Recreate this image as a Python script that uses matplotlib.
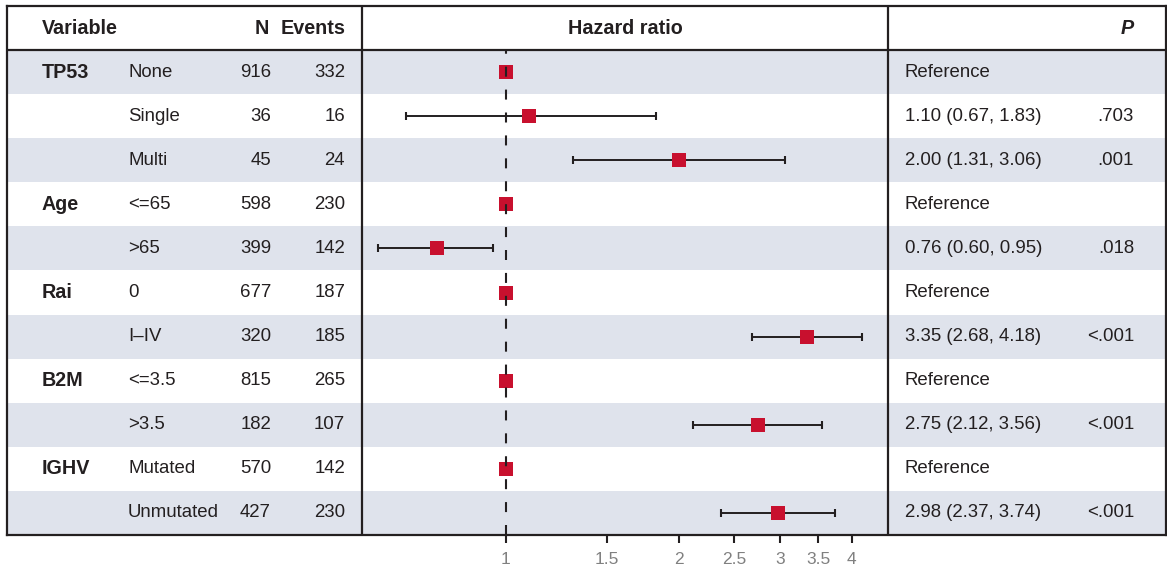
import numpy as np
import matplotlib
matplotlib.use('Agg')
import matplotlib.pyplot as plt
from matplotlib.ticker import NullLocator, FixedLocator, FixedFormatter

plt.rcParams['font.family'] = ['Liberation Sans', 'DejaVu Sans']

#### table data
variables = ['TP53', '', '', 'Age', '', 'Rai', '', 'B2M', '', 'IGHV', '']
subgroups = ['None', 'Single', 'Multi', '<=65', '>65', '0', 'I\u2013IV', '<=3.5', '>3.5',
             'Mutated', 'Unmutated']
n_pat = [916, 36, 45, 598, 399, 677, 320, 815, 182, 570, 427]
events = [332, 16, 24, 230, 142, 187, 185, 265, 107, 142, 230]
hr = [1.0, 1.10, 2.00, 1.0, 0.76, 1.0, 3.35, 1.0, 2.75, 1.0, 2.98]
ci_lo = [np.nan, 0.67, 1.31, np.nan, 0.60, np.nan, 2.68, np.nan, 2.12, np.nan, 2.37]
ci_hi = [np.nan, 1.83, 3.06, np.nan, 0.95, np.nan, 4.18, np.nan, 3.56, np.nan, 3.74]
p_vals = ['', '.703', '.001', '', '.018', '', '<.001', '', '<.001', '', '<.001']
xticks = [1, 1.5, 2, 2.5, 3, 3.5, 4]
xtick_labels = ['1', '1.5', '2', '2.5', '3', '3.5', '4']

#### layout (pixels)
W, H = 1167, 571
LEFT, RIGHT, TOP, BOTTOM = 7, 1166, 6, 535
DIV1, DIV2 = 362, 888
X_VAR, X_SUB, X_N, X_EV, X_HR, X_P = 42, 128, 271, 345, 905, 1134
DARK = '#231f20'
SHADE = '#dfe3ec'
RED = '#c8102e'
FS = 13.4
FS_B = 14.2

nrows = len(subgroups) + 1  # header + data rows

fig = plt.figure(figsize=(W / 100, H / 100), dpi=100)
rect = [LEFT / W, 1 - BOTTOM / H, (RIGHT - LEFT) / W, (BOTTOM - TOP) / H]

# background / table axes
ax = fig.add_axes(rect)
ax.set_xlim(LEFT, RIGHT)
ax.set_ylim(nrows, 0)
ax.set_xticks([]), ax.set_yticks([])
for s in ax.spines.values():
    s.set_color(DARK)
    s.set_linewidth(1.6)

for i in range(len(subgroups)):
    if i % 2 == 0:
        ax.axhspan(i + 1, i + 2, color=SHADE, lw=0, zorder=0)

ax.axhline(1, color=DARK, lw=1.6, zorder=2)
ax.axvline(DIV1, color=DARK, lw=1.6, zorder=2)
ax.axvline(DIV2, color=DARK, lw=1.6, zorder=2)

# header
ax.text(X_VAR, 0.5, 'Variable', fontsize=FS_B, fontweight='bold', va='center', ha='left', color=DARK)
ax.text(X_N - 2, 0.5, 'N', fontsize=FS_B, fontweight='bold', va='center', ha='right', color=DARK)
ax.text(X_EV, 0.5, 'Events', fontsize=FS_B, fontweight='bold', va='center', ha='right', color=DARK)
ax.text((DIV1 + DIV2) / 2, 0.5, 'Hazard ratio', fontsize=FS_B, fontweight='bold',
        va='center', ha='center', color=DARK)
ax.text(X_P, 0.5, 'P', fontsize=FS_B, fontweight='bold', fontstyle='italic',
        va='center', ha='right', color=DARK)

# rows
for i in range(len(subgroups)):
    y = i + 1.5
    if variables[i]:
        ax.text(X_VAR, y, variables[i], fontsize=FS_B, fontweight='bold', va='center', ha='left',
                color=DARK)
    ax.text(X_SUB, y, subgroups[i], fontsize=FS, va='center', ha='left', color=DARK)
    ax.text(X_N, y, str(n_pat[i]), fontsize=FS, va='center', ha='right', color=DARK)
    ax.text(X_EV, y, str(events[i]), fontsize=FS, va='center', ha='right', color=DARK)
    if np.isnan(ci_lo[i]):
        label = 'Reference'
    else:
        label = '%.2f (%.2f, %.2f)' % (hr[i], ci_lo[i], ci_hi[i])
    ax.text(X_HR, y, label, fontsize=FS, va='center', ha='left', color=DARK)
    if p_vals[i]:
        ax.text(X_P, y, p_vals[i], fontsize=FS, va='center', ha='right', color=DARK)

# forest axes
fx = fig.add_axes([DIV1 / W, 1 - BOTTOM / H, (DIV2 - DIV1) / W, (BOTTOM - TOP) / H])
fx.patch.set_alpha(0)
fx.set_xscale('log')
fx.set_xlim(0.5625, 4.63)
fx.set_ylim(nrows, 0)
for s in fx.spines.values():
    s.set_visible(False)
fx.set_yticks([])
fx.xaxis.set_major_locator(FixedLocator(xticks))
fx.xaxis.set_major_formatter(FixedFormatter(xtick_labels))
fx.xaxis.set_minor_locator(NullLocator())
fx.tick_params(axis='x', direction='out', length=5.5, width=1.5, color=DARK,
               labelsize=12.5, labelcolor='#808080', pad=7)

ys = np.arange(len(subgroups)) + 1.5
hr_a = np.array(hr)
lo_a = np.array(ci_lo)
hi_a = np.array(ci_hi)
has_ci = ~np.isnan(lo_a)
fx.errorbar(hr_a[has_ci], ys[has_ci],
            xerr=[hr_a[has_ci] - lo_a[has_ci], hi_a[has_ci] - hr_a[has_ci]],
            fmt='none', ecolor=DARK, elinewidth=1.4, capsize=2.6, capthick=1.5, zorder=2)
fx.plot(hr_a, ys, 's', color=RED, markersize=10, markeredgewidth=0, zorder=3)
fx.axvline(1, ymin=0, ymax=(nrows - 1) / nrows, color=DARK, lw=1.5,
           dashes=(4.8, 6.2), zorder=4)

fig.savefig('out.png', dpi=100)
